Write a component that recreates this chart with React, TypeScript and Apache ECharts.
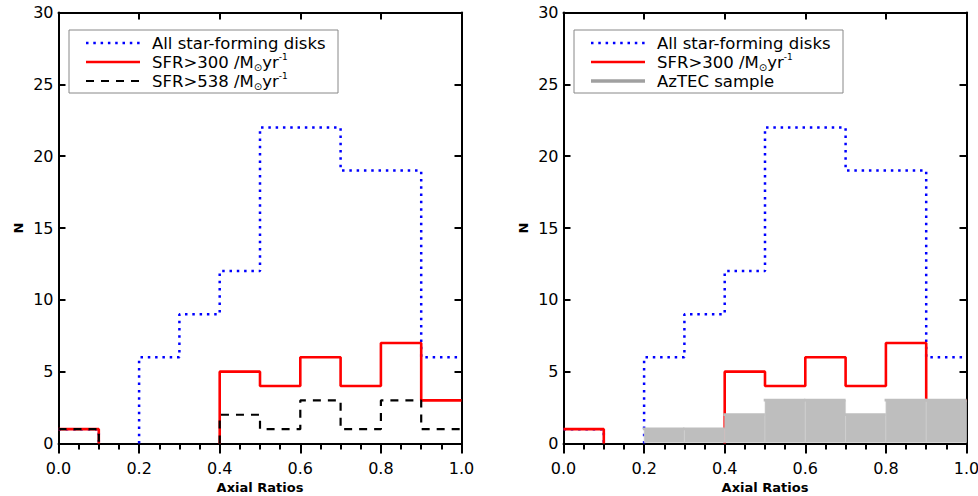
import React, { useEffect, useRef } from "react";
import * as echarts from "echarts";

// Histogram bin edges (axial ratio)
const binEdges = [0.0, 0.1, 0.2, 0.3, 0.4, 0.5, 0.6, 0.7, 0.8, 0.9, 1.0];
// Counts per bin
const allDisks = [1, 0, 6, 9, 12, 22, 22, 19, 19, 6];
const sfr300 = [1, 0, 0, 0, 5, 4, 6, 4, 7, 3];
const sfr538 = [1, 0, 0, 0, 2, 1, 3, 1, 3, 1];
const aztec = [0, 0, 1, 1, 2, 3, 3, 2, 3, 3];

const legendLeft = ["All star-forming disks", "SFR>300 /M", "SFR>538 /M"];
const legendRight = ["All star-forming disks", "SFR>300 /M", "AzTEC sample"];
const xName = "Axial Ratios";
const yName = "N";

const FONT = "DejaVu Sans";

// Step outline of a histogram; zero-height bins leave a gap (they lie on the axis)
function stepPoints(values: number[]): any[] {
  const pts: any[] = [];
  values.forEach((v, i) => {
    if (v === 0) {
      pts.push([binEdges[i], 0]);
      pts.push(["-", "-"]);
      pts.push([binEdges[i + 1], 0]);
    } else {
      pts.push([binEdges[i], v]);
      pts.push([binEdges[i + 1], v]);
    }
  });
  return pts;
}

const BLUE = { color: "#0000ff", width: 2.5, type: [2.5, 4.8] as any };
const RED = { color: "#ff0000", width: 2.6, type: "solid" as any };
const BLACK = { color: "#000000", width: 2.2, type: [8, 7] as any };

function lineSeries(name: string, values: number[], style: any, gi: number, z: number) {
  return {
    name,
    type: "line",
    xAxisIndex: gi * 2,
    yAxisIndex: gi * 2,
    data: stepPoints(values),
    symbol: "none",
    connectNulls: false,
    lineStyle: style,
    z,
    silent: true,
  };
}

function axesFor(gi: number) {
  const xa = [
    {
      gridIndex: gi,
      type: "value",
      min: 0,
      max: 1,
      interval: 0.2,
      position: "bottom",
      name: xName,
      nameLocation: "middle",
      nameGap: 35,
      nameTextStyle: { fontSize: 13, fontWeight: "bold", fontFamily: FONT, color: "#000" },
      axisLine: { show: true, onZero: false, lineStyle: { color: "#000", width: 2 } },
      axisTick: { show: true, inside: false, length: 10, lineStyle: { color: "#000", width: 2 } },
      minorTick: { show: true, splitNumber: 4, length: 6, lineStyle: { color: "#000", width: 2 } },
      axisLabel: {
        show: true,
        margin: 17,
        fontSize: 16,
        fontFamily: FONT,
        color: "#000",
        formatter: (v: number) => v.toFixed(1),
      },
      splitLine: { show: false },
    },
    {
      gridIndex: gi,
      type: "value",
      min: 0,
      max: 1,
      interval: 0.2,
      position: "top",
      axisLine: { show: true, onZero: false, lineStyle: { color: "#000", width: 2 } },
      axisTick: { show: true, inside: true, length: 7, lineStyle: { color: "#000", width: 2 } },
      axisLabel: { show: false },
      splitLine: { show: false },
    },
  ];
  const ya = [
    {
      gridIndex: gi,
      type: "value",
      min: 0,
      max: 30,
      interval: 5,
      position: "left",
      name: yName,
      nameLocation: "middle",
      nameGap: 34,
      nameRotate: 90,
      nameTextStyle: { fontSize: 13, fontWeight: "bold", fontFamily: FONT, color: "#000" },
      axisLine: { show: true, onZero: false, lineStyle: { color: "#000", width: 2 } },
      axisTick: { show: true, inside: true, length: 7, lineStyle: { color: "#000", width: 2 } },
      axisLabel: { show: true, margin: 5, fontSize: 16, fontFamily: FONT, color: "#000" },
      splitLine: { show: false },
    },
    {
      gridIndex: gi,
      type: "value",
      min: 0,
      max: 30,
      interval: 5,
      position: "right",
      axisLine: { show: true, onZero: false, lineStyle: { color: "#000", width: 2 } },
      axisTick: { show: true, inside: true, length: 7, lineStyle: { color: "#000", width: 2 } },
      axisLabel: { show: false },
      splitLine: { show: false },
    },
  ];
  return { xa, ya };
}

const richUnits = {
  n: { fontSize: 16.5, fontFamily: FONT, fill: "#000", lineHeight: 20 },
  sub: { fontSize: 10, fontFamily: FONT, fill: "#000", lineHeight: 12, verticalAlign: "bottom" },
  sup: { fontSize: 9, fontFamily: FONT, fill: "#000", lineHeight: 10, verticalAlign: "top" },
};

function legendGraphic(x0: number, labels: string[], styles: any[]) {
  const els: any[] = [];
  const boxW = 269;
  const rows = [43, 62, 81];
  els.push({
    type: "rect",
    shape: { x: x0, y: 30, width: boxW, height: 63 },
    style: { fill: "#fff", stroke: "#888", lineWidth: 1 },
    z: 20,
  });
  rows.forEach((ry, i) => {
    const st = styles[i];
    els.push({
      type: "line",
      shape: { x1: x0 + 17, y1: ry, x2: x0 + 71, y2: ry },
      style: { stroke: st.color, lineWidth: st.width, lineDash: Array.isArray(st.type) ? st.type : null },
      z: 21,
    });
    const isSfr = labels[i].startsWith("SFR");
    els.push({
      type: "text",
      x: x0 + 83,
      y: ry,
      style: isSfr
        ? {
            text: `{n|${labels[i]}}{sub|⊙}{n|yr}{sup|-1}`,
            rich: richUnits,
            verticalAlign: "middle",
            align: "left",
          }
        : {
            text: labels[i],
            fontSize: 16.5,
            fontFamily: FONT,
            fill: "#000",
            verticalAlign: "middle",
            align: "left",
          },
      z: 21,
    });
  });
  return els;
}

export default function App() {
  const ref = useRef<HTMLDivElement>(null);
  useEffect(() => {
    if (!ref.current) return;
    const chart = echarts.init(ref.current, undefined, { renderer: "svg" });
    const a0 = axesFor(0);
    const a1 = axesFor(1);
    const gray = { color: "#a0a0a0", width: 3.5, type: "solid" };
    chart.setOption({
      animation: false,
      backgroundColor: "#fff",
      textStyle: { fontFamily: FONT },
      grid: [
        { left: 58.5, top: 12.5, width: 403, height: 431, containLabel: false, outerBoundsMode: "none" },
        { left: 563.5, top: 12.5, width: 403, height: 431, containLabel: false, outerBoundsMode: "none" },
      ],
      xAxis: [...a0.xa, ...a1.xa],
      yAxis: [...a0.ya, ...a1.ya],
      series: [
        lineSeries("All star-forming disks", allDisks, BLUE, 0, 2),
        lineSeries("SFR>300", sfr300, RED, 0, 3),
        lineSeries("SFR>538", sfr538, BLACK, 0, 4),
        lineSeries("All star-forming disks", allDisks, BLUE, 1, 2),
        lineSeries("SFR>300", sfr300, RED, 1, 3),
        {
          name: "AzTEC sample",
          type: "custom",
          xAxisIndex: 2,
          yAxisIndex: 2,
          z: 5,
          silent: true,
          data: aztec.map((v, i) => [binEdges[i], binEdges[i + 1], v]),
          encode: { x: [0, 1], y: 2 },
          renderItem: (params: any, api: any) => {
            const x0 = api.value(0);
            const x1 = api.value(1);
            const v = api.value(2);
            if (v <= 0) return null;
            const p0 = api.coord([x0, v]);
            const p1 = api.coord([x1, 0]);
            return {
              type: "group",
              children: [
                {
                  type: "rect",
                  shape: { x: p0[0], y: p0[1], width: p1[0] - p0[0], height: p1[1] - p0[1] - 1 },
                  style: { fill: "#bebebe", stroke: "#d0d0d0", lineWidth: 0.6 },
                },
                {
                  type: "line",
                  shape: { x1: p0[0] - 1.3, y1: p0[1] - 0.2, x2: p1[0], y2: p0[1] - 0.2 },
                  style: { stroke: "#bebebe", lineWidth: 2.8 },
                },
              ],
            };
          },
        },
      ],
      graphic: [
        ...legendGraphic(69, legendLeft, [BLUE, RED, BLACK]),
        ...legendGraphic(574, legendRight, [BLUE, RED, gray]),
      ],
    });
    return () => chart.dispose();
  }, []);
  return (
    <div
      ref={ref}
      style={{ position: "fixed", left: 0, top: 0, width: 978, height: 496, background: "#fff" }}
    />
  );
}
